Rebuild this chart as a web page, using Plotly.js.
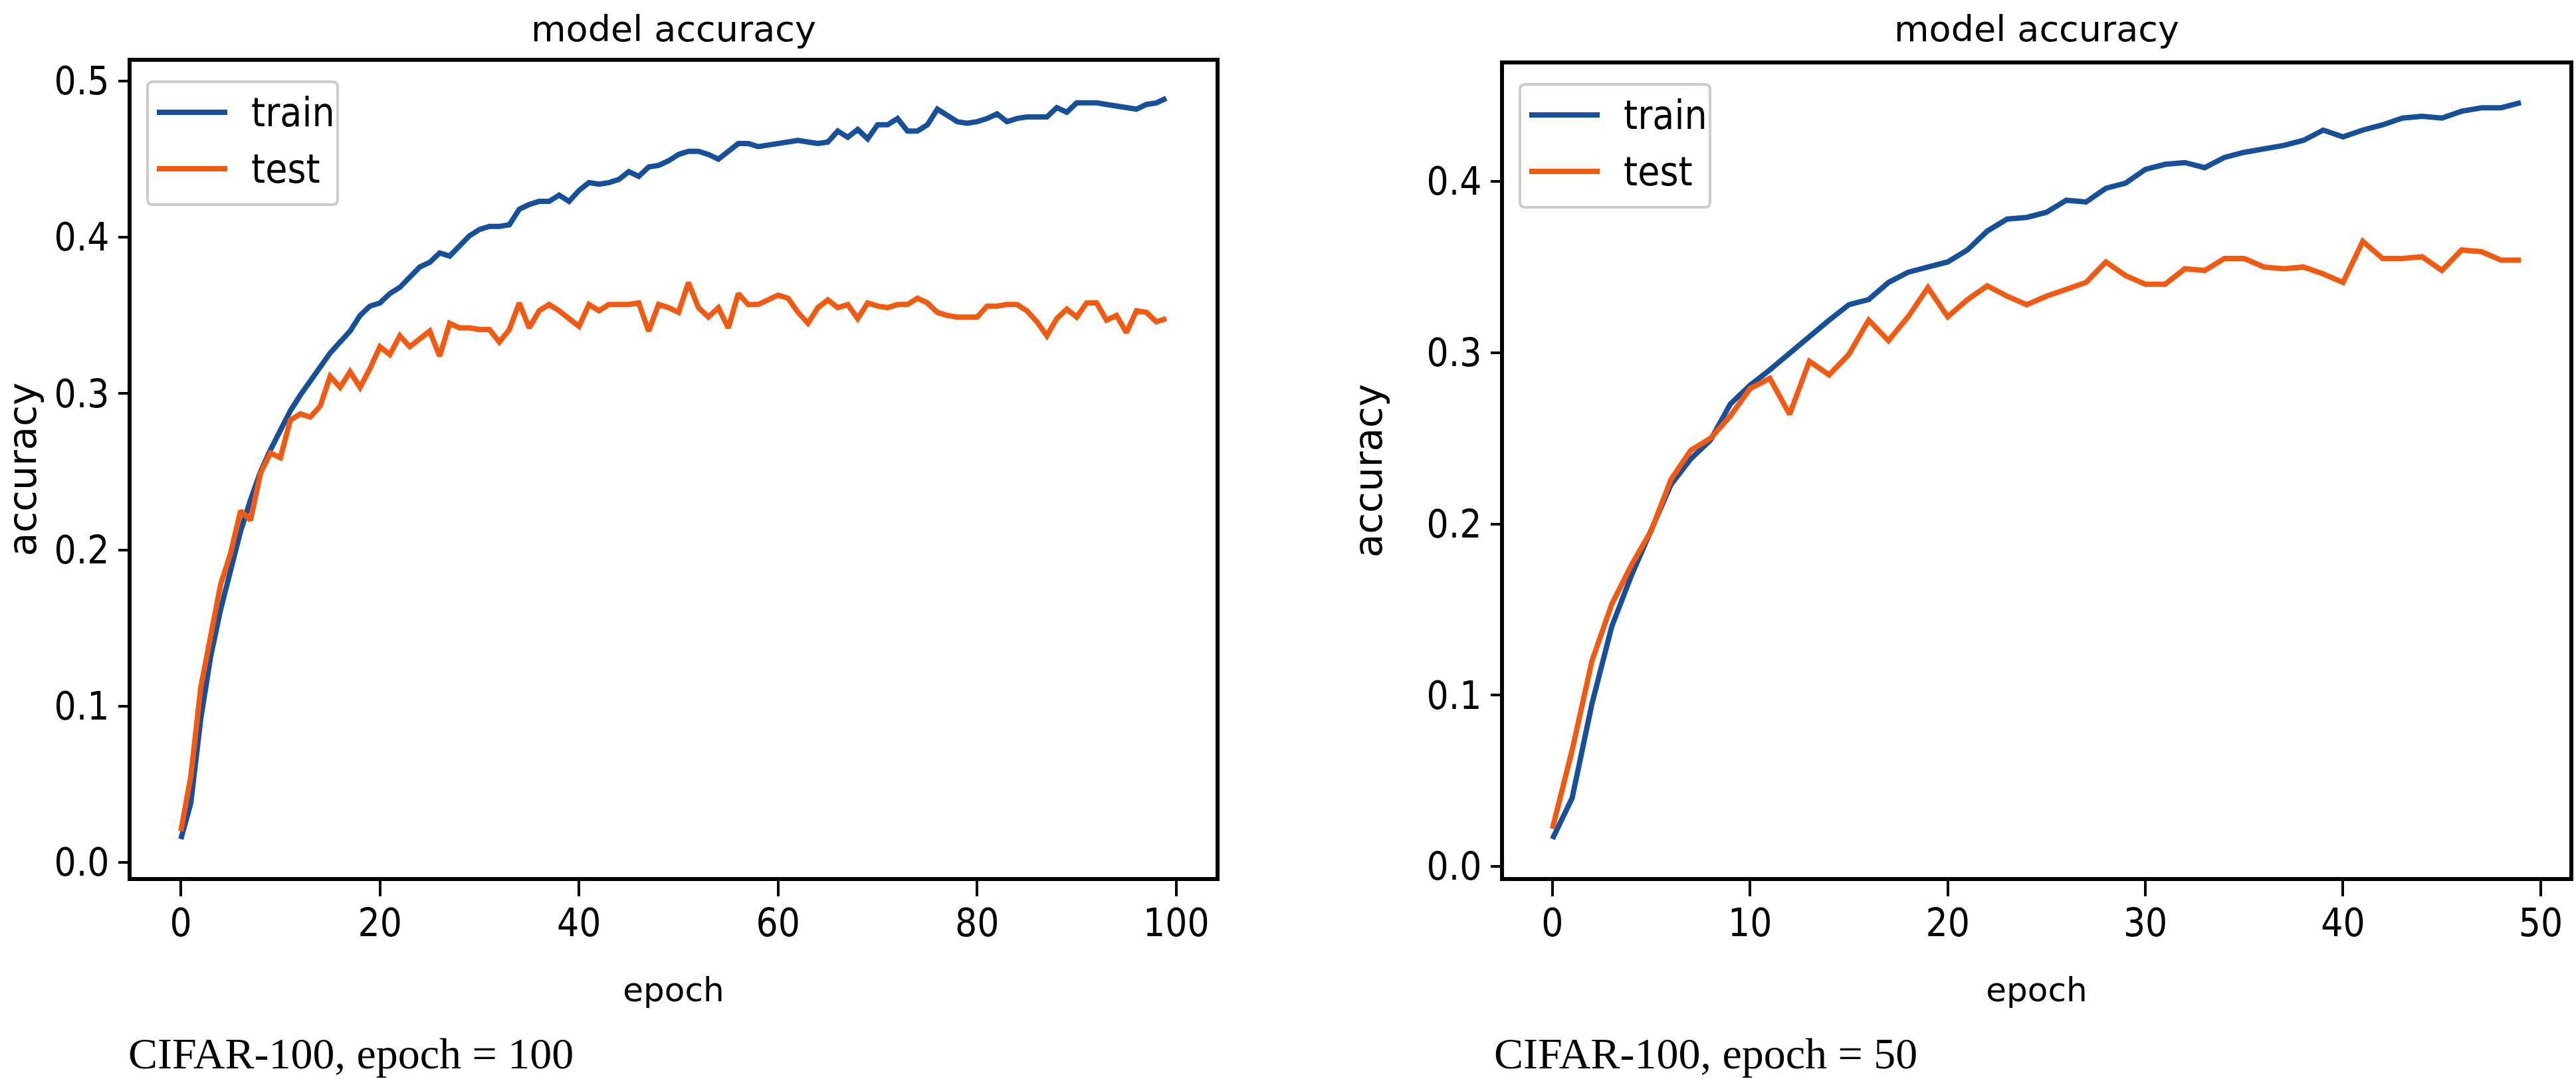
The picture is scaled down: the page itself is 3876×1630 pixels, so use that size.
<!DOCTYPE html>
<html>
<head>
<meta charset="utf-8">
<script src="https://cdn.plot.ly/plotly-3.0.1.min.js"></script>
<style>html,body{margin:0;padding:0;background:#fff;}#chart{width:3876px;height:1630px;}</style>
</head>
<body>
<div id="chart"></div>
<script>
// ---------- data ----------
const epochs100 = [0,1,2,3,4,5,6,7,8,9,10,11,12,13,14,15,16,17,18,19,20,21,22,23,24,25,26,27,28,29,30,31,32,33,34,35,36,37,38,39,40,41,42,43,44,45,46,47,48,49,50,51,52,53,54,55,56,57,58,59,60,61,62,63,64,65,66,67,68,69,70,71,72,73,74,75,76,77,78,79,80,81,82,83,84,85,86,87,88,89,90,91,92,93,94,95,96,97,98,99];
const train100 = [0.015,0.038,0.092,0.132,0.162,0.187,0.212,0.232,0.250,0.264,0.276,0.289,0.299,0.308,0.316,0.326,0.333,0.340,0.350,0.356,0.358,0.364,0.368,0.374,0.381,0.384,0.390,0.388,0.394,0.401,0.405,0.407,0.407,0.408,0.418,0.421,0.423,0.423,0.427,0.423,0.430,0.435,0.434,0.435,0.437,0.442,0.439,0.445,0.446,0.449,0.453,0.455,0.455,0.453,0.450,0.455,0.460,0.460,0.458,0.459,0.460,0.461,0.462,0.461,0.460,0.461,0.468,0.464,0.469,0.463,0.472,0.472,0.476,0.468,0.468,0.472,0.482,0.478,0.474,0.473,0.474,0.476,0.479,0.474,0.476,0.477,0.477,0.477,0.483,0.480,0.486,0.486,0.486,0.485,0.484,0.483,0.482,0.485,0.486,0.489];
const test100 = [0.020,0.055,0.112,0.145,0.178,0.198,0.225,0.219,0.249,0.262,0.259,0.283,0.287,0.285,0.292,0.311,0.304,0.314,0.304,0.316,0.330,0.325,0.337,0.330,0.335,0.340,0.324,0.345,0.342,0.342,0.341,0.341,0.333,0.341,0.358,0.342,0.353,0.357,0.353,0.348,0.343,0.357,0.353,0.357,0.357,0.357,0.358,0.340,0.357,0.355,0.352,0.371,0.355,0.349,0.355,0.342,0.364,0.357,0.357,0.360,0.363,0.361,0.352,0.345,0.355,0.360,0.355,0.357,0.348,0.358,0.356,0.355,0.357,0.357,0.361,0.358,0.352,0.350,0.349,0.349,0.349,0.356,0.356,0.357,0.357,0.353,0.346,0.337,0.348,0.354,0.349,0.358,0.358,0.347,0.350,0.339,0.353,0.352,0.346,0.348];

const epochs50 = [0,1,2,3,4,5,6,7,8,9,10,11,12,13,14,15,16,17,18,19,20,21,22,23,24,25,26,27,28,29,30,31,32,33,34,35,36,37,38,39,40,41,42,43,44,45,46,47,48,49];
const train50 = [0.016,0.040,0.095,0.140,0.170,0.196,0.223,0.238,0.249,0.270,0.281,0.290,0.300,0.309,0.319,0.328,0.331,0.341,0.347,0.350,0.353,0.360,0.371,0.378,0.379,0.382,0.389,0.388,0.396,0.399,0.407,0.410,0.411,0.408,0.414,0.417,0.419,0.421,0.424,0.430,0.426,0.430,0.433,0.437,0.438,0.437,0.441,0.443,0.443,0.446];
const test50 = [0.022,0.068,0.120,0.153,0.176,0.196,0.226,0.243,0.250,0.263,0.279,0.285,0.264,0.295,0.287,0.299,0.319,0.307,0.321,0.338,0.321,0.331,0.339,0.333,0.328,0.333,0.337,0.341,0.353,0.345,0.340,0.340,0.349,0.348,0.355,0.355,0.350,0.349,0.350,0.346,0.341,0.365,0.355,0.355,0.356,0.348,0.360,0.359,0.354,0.354];

const seriesNames = ['train', 'test'];
const panelTitles = ['model accuracy', 'model accuracy'];
const xTitle = 'epoch';
const yTitle = 'accuracy';
const captions = ['CIFAR-100, epoch = 100', 'CIFAR-100, epoch = 50'];

// ---------- style ----------
const W = 3876, H = 1630;
const BLUE = '#17509a', ORANGE = '#f25a12';
const NARROW = '"DejaVu Sans Condensed", "DejaVu Sans", sans-serif';
const DEJAVU = '"DejaVu Sans", sans-serif';
const SERIF = '"Liberation Serif", "Times New Roman", serif';

// plot areas in pixels: [left, right, top, bottom]
const boxes = [[198, 1829, 93, 1320], [2263, 3866, 97, 1320]];
const xRanges = [[-4.95, 103.95], [-2.45, 51.45]];
const yRanges = [[-0.0093, 0.5123], [-0.0062, 0.4683]];
const xDticks = [20, 10];

function xd(b) { return [b[0] / W, b[1] / W]; }
function yd(b) { return [1 - b[3] / H, 1 - b[2] / H]; }

const traces = [
  {x: epochs100, y: train100, name: seriesNames[0], xaxis: 'x', yaxis: 'y', mode: 'lines', line: {color: BLUE, width: 8}, showlegend: false},
  {x: epochs100, y: test100, name: seriesNames[1], xaxis: 'x', yaxis: 'y', mode: 'lines', line: {color: ORANGE, width: 8}, showlegend: false},
  {x: epochs50, y: train50, name: seriesNames[0], xaxis: 'x2', yaxis: 'y2', mode: 'lines', line: {color: BLUE, width: 8}, showlegend: false},
  {x: epochs50, y: test50, name: seriesNames[1], xaxis: 'x2', yaxis: 'y2', mode: 'lines', line: {color: ORANGE, width: 8}, showlegend: false}
];

function xAxis(i) {
  return {
    domain: xd(boxes[i]), range: xRanges[i], anchor: i === 0 ? 'y' : 'y2',
    tick0: 0, dtick: xDticks[i], ticks: 'outside', ticklen: 23, tickwidth: 4, tickcolor: '#000',
    showline: true, linewidth: 6, linecolor: '#000', mirror: true,
    showgrid: false, zeroline: false, fixedrange: true,
    tickfont: {family: NARROW, size: 58, color: '#000'}, ticklabelstandoff: -10,
    title: {text: xTitle, font: {family: DEJAVU, size: 50, color: '#000'}, standoff: 52}
  };
}
function yAxis(i) {
  return {
    domain: yd(boxes[i]), range: yRanges[i], anchor: i === 0 ? 'x' : 'x2',
    tick0: 0, dtick: 0.1, tickformat: '.1f', ticks: 'outside', ticklen: 14, tickwidth: 4, tickcolor: '#000',
    showline: true, linewidth: 6, linecolor: '#000', mirror: true,
    showgrid: false, zeroline: false, fixedrange: true,
    tickfont: {family: NARROW, size: 58, color: '#000'}, ticklabelstandoff: 2,
    title: {text: yTitle, font: {family: DEJAVU, size: 58, color: '#000'}, standoff: 50}
  };
}

const shapes = [];
const annotations = [];
// legend geometry in px relative to plot area top-left
const LEG = {x0: 24, x1: 310, y0: 30, y1: 215, lx0: 38, lx1: 144, ly: [76, 161], tx: 178, r: 8};
const legColors = [BLUE, ORANGE];

boxes.forEach(function (b, i) {
  const pw = b[1] - b[0], ph = b[3] - b[2];
  const xr = i === 0 ? 'x domain' : 'x2 domain';
  const yr = i === 0 ? 'y domain' : 'y2 domain';
  const fx = function (p) { return p / pw; };
  const fy = function (p) { return 1 - p / ph; };
  const x0 = fx(LEG.x0), x1 = fx(LEG.x1), y0 = fy(LEG.y0), y1 = fy(LEG.y1);
  const rx = LEG.r / pw, ry = LEG.r / ph;
  const path = 'M' + (x0 + rx) + ',' + y0 + ' L' + (x1 - rx) + ',' + y0 +
    ' Q' + x1 + ',' + y0 + ' ' + x1 + ',' + (y0 - ry) +
    ' L' + x1 + ',' + (y1 + ry) + ' Q' + x1 + ',' + y1 + ' ' + (x1 - rx) + ',' + y1 +
    ' L' + (x0 + rx) + ',' + y1 + ' Q' + x0 + ',' + y1 + ' ' + x0 + ',' + (y1 + ry) +
    ' L' + x0 + ',' + (y0 - ry) + ' Q' + x0 + ',' + y0 + ' ' + (x0 + rx) + ',' + y0 + ' Z';
  shapes.push({type: 'path', xref: xr, yref: yr, path: path, fillcolor: 'rgba(255,255,255,0.8)', line: {color: '#cccccc', width: 4}, layer: 'above'});
  seriesNames.forEach(function (nm, k) {
    shapes.push({type: 'line', xref: xr, yref: yr, x0: fx(LEG.lx0), x1: fx(LEG.lx1), y0: fy(LEG.ly[k]), y1: fy(LEG.ly[k]), line: {color: legColors[k], width: 8}, layer: 'above'});
    annotations.push({xref: xr, yref: yr, x: fx(LEG.tx), y: fy(LEG.ly[k]), xanchor: 'left', yanchor: 'middle', showarrow: false, text: nm, font: {family: NARROW, size: 60, color: '#000'}});
  });
  // panel title
  annotations.push({xref: 'paper', yref: 'paper', x: (b[0] + b[1]) / 2 / W, y: 1 - 44 / H, xanchor: 'center', yanchor: 'middle', showarrow: false, text: panelTitles[i], font: {family: DEJAVU, size: 54, color: '#000'}});
});
// captions
annotations.push({xref: 'paper', yref: 'paper', x: 191 / W, y: 1 - 1585 / H, xanchor: 'left', yanchor: 'middle', showarrow: false, text: captions[0], font: {family: SERIF, size: 66, color: '#000'}});
annotations.push({xref: 'paper', yref: 'paper', x: 2246 / W, y: 1 - 1585 / H, xanchor: 'left', yanchor: 'middle', showarrow: false, text: captions[1], font: {family: SERIF, size: 66, color: '#000'}});

const layout = {
  width: W, height: H,
  margin: {l: 0, r: 0, t: 0, b: 0, pad: 0},
  paper_bgcolor: '#fff', plot_bgcolor: '#fff',
  showlegend: false,
  xaxis: xAxis(0), yaxis: yAxis(0),
  xaxis2: xAxis(1), yaxis2: yAxis(1),
  shapes: shapes, annotations: annotations
};

Plotly.newPlot('chart', traces, layout, {displayModeBar: false, staticPlot: true});
</script>
</body>
</html>
